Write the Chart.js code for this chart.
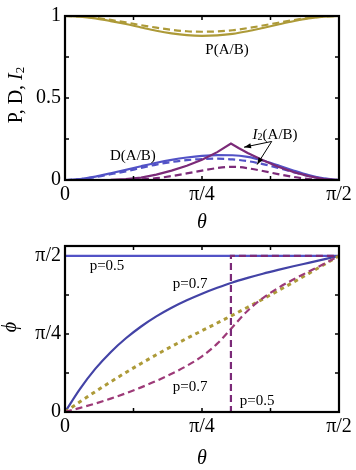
<!DOCTYPE html>
<html>
<head>
<meta charset="utf-8">
<script src="https://cdn.jsdelivr.net/npm/chart.js@4.4.1/dist/chart.umd.min.js"></script>
<style>
  html, body { margin: 0; padding: 0; background: #fff; }
  #wrap { position: relative; width: 356px; height: 470px; overflow: hidden; }
  canvas { position: absolute; left: 0; }
</style>
</head>
<body>
<div id="wrap">
  <canvas id="top-chart" width="356" height="240" style="top:0"></canvas>
  <canvas id="bottom-chart" width="356" height="240" style="top:230px"></canvas>
</div>
<script>
// theta in degrees (0 .. 90 = pi/2)
const thetaDeg = [0, 5, 10, 15, 20, 25, 30, 35, 40, 45, 50, 55, 60, 65, 70, 75, 80, 85, 90];

// top panel: P, D (solid / dashed)
const pSolid  = [1, 0.996, 0.985, 0.969, 0.951, 0.930, 0.910, 0.894, 0.883, 0.879, 0.882, 0.891, 0.907, 0.927, 0.948, 0.968, 0.985, 0.996, 1];
const pDashed = [1, 0.997, 0.989, 0.976, 0.961, 0.944, 0.929, 0.916, 0.907, 0.904, 0.906, 0.913, 0.926, 0.942, 0.959, 0.975, 0.988, 0.997, 1];
const dSolid  = [0, 0.006, 0.021, 0.041, 0.062, 0.084, 0.105, 0.123, 0.137, 0.147, 0.152, 0.151, 0.141, 0.119, 0.089, 0.058, 0.030, 0.010, 0];
const dDashed = [0, 0.005, 0.018, 0.035, 0.053, 0.074, 0.094, 0.110, 0.121, 0.128, 0.130, 0.126, 0.115, 0.097, 0.074, 0.048, 0.025, 0.008, 0];

// I2 has a kink, so its own theta grid
const thetaI2  = [0, 10, 15, 20, 25, 30, 35, 40, 45, 50, 54.5, 57, 60, 65, 70, 75, 80, 85, 90];
const i2Solid  = [0, 0, 0.001, 0.005, 0.015, 0.033, 0.057, 0.087, 0.123, 0.170, 0.222, 0.195, 0.165, 0.120, 0.081, 0.049, 0.024, 0.006, 0];
const i2Dashed = [0, 0, 0, 0, 0.003, 0.011, 0.024, 0.040, 0.057, 0.073, 0.080, 0.079, 0.072, 0.055, 0.036, 0.019, 0.006, 0, 0];

// bottom panel: phi in degrees
const phiBlue07   = [0, 13.5, 25, 34.5, 42.5, 49.3, 55.1, 60.1, 64.4, 68.2, 71.6, 74.7, 77.3, 79.7, 81.9, 84.0, 86.0, 88.0, 90];
const phiPurple07 = [0, 2.4, 4.9, 7.7, 10.8, 14.2, 17.9, 22, 26.6, 32.1, 39.4, 48.9, 58.4, 65.7, 71.5, 76.4, 80.9, 85.3, 90];
const phiGold     = [0, 6, 11.8, 17.4, 22.8, 28, 33, 37.8, 42.4, 46.9, 51.3, 55.8, 60.4, 65.1, 69.9, 74.8, 79.8, 84.9, 90];
const thetaFlat   = [0, 90];
const phiBlue05   = [90, 90];
const thetaStep   = [0, 54.5, 54.5, 90];
const phiPurple05 = [0, 0, 90, 90];

// tick labels
const xTickLabels = { 0: '0', 45: 'π/4', 90: 'π/2' };
const topYLabels  = { 0: '0', 0.5: '0.5', 1: '1' };
const phiLabels   = { 0: '0', 45: 'π/4', 90: 'π/2' };

const SERIF = '"Liberation Serif", "DejaVu Serif", serif';
const GOLD = '#ad9a38';
const BLUE = '#5252c6';
const BLUE_DARK = '#4343a6';
const PURPLE = '#7b2a78';
const PINK = '#9d3a78';

const pts = (xs, ys) => xs.map((x, i) => ({ x, y: ys[i] }));

function line(label, xs, ys, color, opts = {}) {
  return Object.assign({
    label,
    data: pts(xs, ys),
    showLine: true,
    borderColor: color,
    borderWidth: 2.2,
    pointRadius: 0,
    fill: false,
    tension: 0.4,
    cubicInterpolationMode: 'monotone'
  }, opts);
}

// frame, inward ticks, titles and notes
const decor = {
  id: 'decor',
  afterDraw(chart, args, o) {
    const { ctx, chartArea: a, scales: { x, y } } = chart;
    ctx.save();
    ctx.strokeStyle = '#000';
    ctx.lineWidth = 1.5;
    ctx.beginPath();
    o.xTicks.forEach((v) => {
      const px = x.getPixelForValue(v);
      ctx.moveTo(px, a.bottom); ctx.lineTo(px, a.bottom - 4);
      ctx.moveTo(px, a.top); ctx.lineTo(px, a.top + 4);
    });
    o.yTicks.forEach((v) => {
      const py = y.getPixelForValue(v);
      ctx.moveTo(a.left, py); ctx.lineTo(a.left + 4, py);
      ctx.moveTo(a.right, py); ctx.lineTo(a.right - 4, py);
    });
    ctx.stroke();
    ctx.lineWidth = 2.2;
    ctx.strokeRect(a.left, a.top, a.right - a.left, a.bottom - a.top);

    ctx.fillStyle = '#000';
    ctx.textAlign = 'center';
    ctx.textBaseline = 'middle';
    // x title
    ctx.font = 'italic 20px ' + SERIF;
    ctx.fillText('θ', (a.left + a.right) / 2, o.xTitleY);

    ctx.font = '15px ' + SERIF;
    o.notes.forEach((n) => {
      ctx.fillText(n.text, x.getPixelForValue(n.x), y.getPixelForValue(n.y));
    });
    if (o.extra) o.extra(chart, ctx);
    ctx.restore();
  }
};

function drawParts(ctx, parts, cx, cy) {
  // parts: [{t, font, dy}] drawn centered on cx
  let w = 0;
  parts.forEach((p) => { ctx.font = p.font; w += ctx.measureText(p.t).width; });
  let xx = cx - w / 2;
  ctx.textAlign = 'left';
  parts.forEach((p) => {
    ctx.font = p.font;
    ctx.fillText(p.t, xx, cy + (p.dy || 0));
    xx += ctx.measureText(p.t).width;
  });
}

function arrow(ctx, x0, y0, x1, y1) {
  ctx.beginPath();
  ctx.moveTo(x0, y0);
  ctx.lineTo(x1, y1);
  ctx.stroke();
  const ang = Math.atan2(y1 - y0, x1 - x0);
  const L = 7, W = 2.6;
  ctx.beginPath();
  ctx.moveTo(x1, y1);
  ctx.lineTo(x1 - L * Math.cos(ang) + W * Math.sin(ang), y1 - L * Math.sin(ang) - W * Math.cos(ang));
  ctx.lineTo(x1 - L * Math.cos(ang) - W * Math.sin(ang), y1 - L * Math.sin(ang) + W * Math.cos(ang));
  ctx.closePath();
  ctx.fill();
}

function xScale() {
  return {
    type: 'linear',
    min: 0,
    max: 90,
    afterBuildTicks: (s) => { s.ticks = [0, 45, 90].map((v) => ({ value: v })); },
    afterFit: (s) => { s.height = 60; },
    grid: { display: false, drawTicks: false },
    border: { display: false },
    ticks: {
      autoSkip: false,
      maxRotation: 0,
      padding: 3,
      color: '#000',
      font: { family: SERIF, size: 20 },
      callback: (v) => xTickLabels[v] ?? ''
    }
  };
}

function yScale(min, max, values, labels) {
  return {
    type: 'linear',
    min,
    max,
    afterBuildTicks: (s) => { s.ticks = values.map((v) => ({ value: v })); },
    afterFit: (s) => { s.width = 65; },
    grid: { display: false, drawTicks: false },
    border: { display: false },
    ticks: {
      autoSkip: false,
      padding: 4,
      color: '#000',
      font: { family: SERIF, size: 20 },
      callback: (v) => labels[v] ?? ''
    }
  };
}

const common = {
  responsive: false,
  animation: false,
  events: [],
  plugins: { legend: { display: false }, tooltip: { enabled: false } }
};

// top panel
new Chart(document.getElementById('top-chart'), {
  type: 'scatter',
  data: {
    datasets: [
      line('I2 solid', thetaI2, i2Solid, PURPLE, { tension: 0, cubicInterpolationMode: 'default' }),
      line('I2 dashed', thetaI2, i2Dashed, PURPLE, { borderDash: [7, 4] }),
      line('D dashed', thetaDeg, dDashed, BLUE, { borderDash: [7, 4] }),
      line('D solid', thetaDeg, dSolid, BLUE),
      line('P dashed', thetaDeg, pDashed, GOLD, { borderDash: [7, 4] }),
      line('P solid', thetaDeg, pSolid, GOLD)
    ]
  },
  options: Object.assign({}, common, {
    layout: { padding: { top: 10, right: 17, left: 0, bottom: 0 } },
    scales: { x: xScale(), y: yScale(0, 1, [0, 0.5, 1], topYLabels) },
    plugins: Object.assign({}, common.plugins, {
      decor: {
        xTicks: [22.5, 45, 67.5],
        yTicks: [0.25, 0.5, 0.75],
        xTitleY: 223,
        notes: [
          { text: 'P(A/B)', x: 53.2, y: 0.794 },
          { text: 'D(A/B)', x: 22.3, y: 0.147 }
        ],
        extra(chart, ctx) {
          const { x, y } = chart.scales;
          ctx.textBaseline = 'middle';
          drawParts(ctx, [
            { t: 'I', font: 'italic 15px ' + SERIF },
            { t: '2', font: '10px ' + SERIF, dy: 3 },
            { t: '(A/B)', font: '15px ' + SERIF }
          ], x.getPixelForValue(69), y.getPixelForValue(0.276));
          ctx.strokeStyle = '#000';
          ctx.fillStyle = '#000';
          ctx.lineWidth = 1;
          const sx = x.getPixelForValue(67.9), sy = y.getPixelForValue(0.235);
          arrow(ctx, sx, sy, x.getPixelForValue(58.8), y.getPixelForValue(0.2));
          arrow(ctx, sx, sy, x.getPixelForValue(63.1), y.getPixelForValue(0.094));
          // y title
          ctx.save();
          ctx.translate(17, 95);
          ctx.rotate(-Math.PI / 2);
          drawParts(ctx, [
            { t: 'P, D, ', font: '20px ' + SERIF },
            { t: 'I', font: 'italic 20px ' + SERIF },
            { t: '2', font: '13px ' + SERIF, dy: 4 }
          ], 0, 0);
          ctx.restore();
        }
      }
    })
  }),
  plugins: [decor]
});

// bottom panel
new Chart(document.getElementById('bottom-chart'), {
  type: 'scatter',
  data: {
    datasets: [
      line('p=0.5 dashed', thetaStep, phiPurple05, PURPLE, { tension: 0, cubicInterpolationMode: 'default', borderDash: [7, 4] }),
      line('p=0.7 dashed', thetaDeg, phiPurple07, PINK, { borderDash: [7, 4] }),
      line('dotted', thetaDeg, phiGold, GOLD, { borderDash: [4, 4], borderWidth: 3 }),
      line('p=0.7 solid', thetaDeg, phiBlue07, BLUE_DARK),
      line('p=0.5 solid', thetaFlat, phiBlue05, BLUE, { tension: 0, cubicInterpolationMode: 'default' })
    ]
  },
  options: Object.assign({}, common, {
    layout: { padding: { top: 13, right: 17, left: 0, bottom: 0 } },
    scales: {
      x: Object.assign(xScale(), { afterFit: (s) => { s.height = 58; } }),
      y: yScale(0, 95.7, [0, 45, 90], phiLabels)
    },
    plugins: Object.assign({}, common.plugins, {
      decor: {
        xTicks: [22.5, 45, 67.5],
        yTicks: [22.5, 45, 67.5],
        xTitleY: 229,
        notes: [
          { text: 'p=0.5', x: 13.8, y: 84.3 },
          { text: 'p=0.7', x: 41.1, y: 73.6 },
          { text: 'p=0.7', x: 41.1, y: 14.2 },
          { text: 'p=0.5', x: 63.1, y: 6.2 }
        ],
        extra(chart, ctx) {
          ctx.save();
          ctx.translate(11, 97);
          ctx.rotate(-Math.PI / 2);
          ctx.textAlign = 'center';
          ctx.font = 'italic 20px ' + SERIF;
          ctx.fillText('ϕ', 0, 0);
          ctx.restore();
        }
      }
    })
  }),
  plugins: [decor]
});
</script>
</body>
</html>
